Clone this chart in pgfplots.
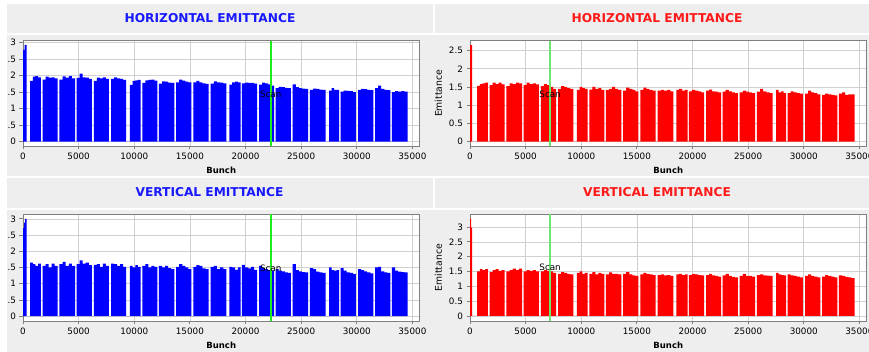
\documentclass[border=0pt]{standalone}
\usepackage{pgfplots}
\pgfplotsset{compat=1.18}
\usepackage{pgfplotstable}
\usepackage{fontspec}
\setmainfont{DejaVu Sans}

\definecolor{bgray}{RGB}{238,238,238}
\definecolor{tblue}{RGB}{25,25,255}
\definecolor{tred}{RGB}{255,25,25}
\definecolor{barblue}{RGB}{0,0,255}
\definecolor{barred}{RGB}{255,0,0}
\definecolor{gridgray}{RGB}{208,208,208}
\definecolor{framegray}{RGB}{128,128,128}
\definecolor{scanA}{RGB}{30,235,30}
\definecolor{scanB}{RGB}{110,230,110}

\pgfplotstableread{
x y
0 2.78
150 2.93
330 0
640 1.84
880 1.97
1120 1.99
1360 1.95
1600 0
1770 1.88
2040 1.97
2310 1.94
2580 1.95
2850 1.92
3120 0
3280 1.88
3560 1.98
3840 1.94
4120 1.99
4400 1.92
4680 0
4810 1.93
5090 2.06
5360 1.95
5640 1.94
5910 1.90
6190 0
6370 1.84
6640 1.94
6910 1.92
7190 1.95
7460 1.90
7730 0
7920 1.90
8190 1.95
8460 1.92
8740 1.90
9010 1.87
9280 0
9600 1.72
9845 1.84
10090 1.86
10335 1.87
10580 0
10720 1.78
10990 1.86
11260 1.87
11540 1.88
11810 1.85
12080 0
12220 1.76
12500 1.83
12770 1.82
13050 1.79
13320 1.78
13600 0
13770 1.80
14040 1.88
14320 1.85
14590 1.82
14870 1.80
15140 0
15310 1.80
15580 1.84
15860 1.80
16130 1.77
16410 1.75
16680 0
16870 1.76
17150 1.83
17430 1.80
17720 1.79
18000 1.77
18280 0
18550 1.73
18805 1.80
19060 1.82
19315 1.80
19570 0
19680 1.77
19950 1.79
20230 1.78
20500 1.78
20780 1.76
21050 0
21220 1.73
21490 1.79
21760 1.77
22040 1.74
22310 1.70
22580 0
22710 1.62
22980 1.66
23260 1.65
23530 1.63
23810 1.62
24080 0
24240 1.74
24520 1.65
24790 1.62
25070 1.61
25340 1.60
25620 0
25780 1.57
26070 1.61
26350 1.60
26640 1.58
26920 1.57
27210 0
27510 1.55
27735 1.62
27960 1.57
28185 1.57
28410 0
28550 1.52
28820 1.55
29090 1.54
29370 1.53
29640 1.50
29910 0
30120 1.57
30390 1.60
30670 1.59
30940 1.57
31220 1.56
31490 0
31660 1.62
31930 1.70
32200 1.60
32480 1.57
32750 1.56
33020 0
33150 1.50
33440 1.53
33720 1.52
34010 1.53
34290 1.52
34580 0
}\TL

\pgfplotstableread{
x y
0 2.72
100 2.88
200 3.0
330 0
640 1.65
880 1.60
1120 1.55
1360 1.62
1600 0
1770 1.55
2040 1.60
2310 1.50
2580 1.62
2850 1.55
3120 0
3280 1.60
3560 1.67
3840 1.55
4120 1.62
4400 1.55
4680 0
4810 1.60
5090 1.72
5360 1.62
5640 1.65
5910 1.57
6190 0
6370 1.58
6640 1.60
6910 1.52
7190 1.62
7460 1.55
7730 0
7920 1.62
8190 1.60
8460 1.55
8740 1.60
9010 1.52
9280 0
9600 1.55
9845 1.50
10090 1.57
10335 1.52
10580 0
10720 1.55
10990 1.60
11260 1.50
11540 1.55
11810 1.52
12080 0
12220 1.55
12500 1.50
12770 1.55
13050 1.48
13320 1.45
13600 0
13770 1.52
14040 1.60
14320 1.55
14590 1.50
14870 1.45
15140 0
15310 1.52
15580 1.57
15860 1.55
16130 1.47
16410 1.45
16680 0
16870 1.52
17150 1.55
17430 1.45
17720 1.50
18000 1.45
18280 0
18550 1.52
18805 1.50
19060 1.43
19315 1.50
19570 0
19680 1.58
19950 1.50
20230 1.47
20500 1.52
20780 1.43
21050 0
21220 1.55
21490 1.48
21760 1.45
22040 1.42
22310 1.40
22580 0
22710 1.45
22980 1.40
23260 1.38
23530 1.35
23810 1.33
24080 0
24240 1.60
24520 1.42
24790 1.38
25070 1.36
25340 1.35
25620 0
25780 1.48
26070 1.45
26350 1.37
26640 1.35
26920 1.33
27210 0
27510 1.50
27735 1.42
27960 1.40
28185 1.42
28410 0
28550 1.48
28820 1.40
29090 1.35
29370 1.33
29640 1.30
29910 0
30120 1.45
30390 1.42
30670 1.38
30940 1.35
31220 1.32
31490 0
31660 1.50
31930 1.52
32200 1.38
32480 1.35
32750 1.33
33020 0
33150 1.50
33440 1.40
33720 1.37
34010 1.36
34290 1.35
34580 0
}\BL

\pgfplotstableread{
x y
0 2.65
200 0
640 1.53
880 1.58
1120 1.60
1360 1.62
1600 0
1770 1.55
2040 1.62
2310 1.58
2580 1.62
2850 1.57
3120 0
3280 1.52
3560 1.60
3840 1.58
4120 1.62
4400 1.60
4680 0
4810 1.55
5090 1.62
5360 1.58
5640 1.60
5910 1.57
6190 0
6370 1.52
6640 1.58
6910 1.55
7190 1.50
7460 1.45
7730 0
7920 1.45
8190 1.52
8460 1.50
8740 1.47
9010 1.45
9280 0
9600 1.42
9845 1.50
10090 1.47
10335 1.45
10580 0
10720 1.43
10990 1.50
11260 1.45
11540 1.47
11810 1.42
12080 0
12220 1.42
12500 1.45
12770 1.50
13050 1.45
13320 1.42
13600 0
13770 1.40
14040 1.48
14320 1.45
14590 1.42
14870 1.38
15140 0
15310 1.42
15580 1.48
15860 1.45
16130 1.42
16410 1.40
16680 0
16870 1.40
17150 1.42
17430 1.40
17720 1.42
18000 1.38
18280 0
18550 1.42
18805 1.45
19060 1.40
19315 1.42
19570 0
19680 1.38
19950 1.42
20230 1.40
20500 1.38
20780 1.35
21050 0
21220 1.40
21490 1.43
21760 1.38
22040 1.37
22310 1.35
22580 0
22710 1.37
22980 1.42
23260 1.38
23530 1.35
23810 1.33
24080 0
24240 1.35
24520 1.40
24790 1.37
25070 1.35
25340 1.33
25620 0
25780 1.37
26070 1.45
26350 1.38
26640 1.35
26920 1.33
27210 0
27510 1.42
27735 1.35
27960 1.38
28185 1.33
28410 0
28550 1.33
28820 1.38
29090 1.35
29370 1.33
29640 1.32
29910 0
30120 1.32
30390 1.40
30670 1.35
30940 1.33
31220 1.30
31490 0
31660 1.28
31930 1.32
32200 1.30
32480 1.28
32750 1.27
33020 0
33150 1.32
33440 1.35
33720 1.28
34010 1.30
34290 1.30
34580 0
}\TR

\pgfplotstableread{
x y
0 3.28
110 2.98
200 0
640 1.50
880 1.58
1120 1.55
1360 1.58
1600 0
1770 1.48
2040 1.55
2310 1.58
2580 1.52
2850 1.55
3120 0
3280 1.50
3560 1.55
3840 1.60
4120 1.55
4400 1.60
4680 0
4810 1.50
5090 1.55
5360 1.52
5640 1.55
5910 1.50
6190 0
6370 1.50
6640 1.55
6910 1.52
7190 1.50
7460 1.45
7730 0
7920 1.42
8190 1.48
8460 1.45
8740 1.42
9010 1.40
9280 0
9600 1.45
9845 1.50
10090 1.42
10335 1.45
10580 0
10720 1.42
10990 1.48
11260 1.40
11540 1.45
11810 1.42
12080 0
12220 1.40
12500 1.47
12770 1.42
13050 1.42
13320 1.40
13600 0
13770 1.42
14040 1.48
14320 1.40
14590 1.37
14870 1.35
15140 0
15310 1.40
15580 1.45
15860 1.42
16130 1.40
16410 1.38
16680 0
16870 1.38
17150 1.40
17430 1.37
17720 1.38
18000 1.35
18280 0
18550 1.40
18805 1.42
19060 1.38
19315 1.40
19570 0
19680 1.38
19950 1.42
20230 1.40
20500 1.38
20780 1.37
21050 0
21220 1.38
21490 1.42
21760 1.37
22040 1.35
22310 1.33
22580 0
22710 1.37
22980 1.42
23260 1.35
23530 1.32
23810 1.30
24080 0
24240 1.35
24520 1.42
24790 1.35
25070 1.35
25340 1.33
25620 0
25780 1.38
26070 1.40
26350 1.37
26640 1.36
26920 1.35
27210 0
27510 1.45
27735 1.40
27960 1.38
28185 1.37
28410 0
28550 1.40
28820 1.37
29090 1.35
29370 1.33
29640 1.30
29910 0
30120 1.35
30390 1.40
30670 1.35
30940 1.33
31220 1.30
31490 0
31660 1.33
31930 1.38
32200 1.35
32480 1.33
32750 1.30
33020 0
33150 1.37
33440 1.35
33720 1.32
34010 1.30
34290 1.28
34580 0
}\BR

\pgfplotsset{
 emit/.style={
  scale only axis, width=396.5pt,
  xmin=0, xmax=35640,
  xtick={0,5000,10000,15000,20000,25000,30000,35000},
  axis background/.style={fill=white},
  grid=major, grid style={draw=gridgray, line width=0.6pt},
  axis line style={draw=framegray, line width=0.8pt},
  major tick style={draw=framegray, line width=0.8pt},
  tick align=outside, major tick length=3.5pt,
  xtick pos=left, ytick pos=left,
  scaled ticks=false,
  /pgf/number format/assume math mode=true,
  /pgf/number format/1000 sep={},
  tick label style={font=\fontsize{8.8}{10}\selectfont, text=black},
  xlabel={Bunch},
  xlabel style={font=\bfseries\fontsize{8.5}{10}\selectfont},
  ylabel style={font=\fontsize{9.3}{10}\selectfont},
 }
}

\begin{document}
\begin{tikzpicture}[x=1pt,y=1pt]
\useasboundingbox (0,0) rectangle (869,352);
\clip (0,0) rectangle (869,352);
\fill[white] (0,0) rectangle (869,352);
% title bars and panel backgrounds
\fill[bgray] (7,348) rectangle (432.5,318.5);
\fill[bgray] (435,348) rectangle (869,318.5);
\fill[bgray] (7,316.5) rectangle (869,175.5);
\fill[bgray] (7,174) rectangle (432.5,144);
\fill[bgray] (435,174) rectangle (869,144);
\fill[bgray] (7,142) rectangle (869,0);

\node[font=\bfseries\fontsize{12.2}{14}\selectfont, text=tblue] at (210,333.7) {HORIZONTAL EMITTANCE};
\node[font=\bfseries\fontsize{12.2}{14}\selectfont, text=tred] at (657,333.7) {HORIZONTAL EMITTANCE};
\node[font=\bfseries\fontsize{12.2}{14}\selectfont, text=tblue] at (209.5,160) {VERTICAL EMITTANCE};
\node[font=\bfseries\fontsize{12.2}{14}\selectfont, text=tred] at (657,160) {VERTICAL EMITTANCE};

\begin{scope}
\clip (8.3,0) rectangle (433,352);
% top left
\begin{axis}[emit, at={(23pt,206pt)}, anchor=south west, height=105.3pt,
  ymin=-0.13, ymax=3.06, ytick={0,0.5,1,1.5,2,2.5,3}]
\addplot[fill=barblue, draw=none, const plot] table[x=x,y=y] {\TL} \closedcycle;
\addplot[scanA, line width=1.6pt] coordinates {(22270,-0.13) (22270,3.06)};
\node[font=\fontsize{8.8}{10}\selectfont] at (axis cs:22270,1.43) {Scan};
\end{axis}
% bottom left
\begin{axis}[emit, at={(23pt,31pt)}, anchor=south west, height=106.7pt,
  ymin=-0.15, ymax=3.14, ytick={0,0.5,1,1.5,2,2.5,3}]
\addplot[fill=barblue, draw=none, const plot] table[x=x,y=y] {\BL} \closedcycle;
\addplot[scanA, line width=1.6pt] coordinates {(22270,-0.15) (22270,3.14)};
\node[font=\fontsize{8.8}{10}\selectfont] at (axis cs:22270,1.49) {Scan};
\end{axis}
\end{scope}

% top right
\begin{axis}[emit, at={(470pt,206pt)}, anchor=south west, height=105.3pt,
  ymin=-0.12, ymax=2.77, ytick={0,0.5,1,1.5,2,2.5}, ylabel={Emittance}]
\addplot[fill=barred, draw=none, const plot] table[x=x,y=y] {\TR} \closedcycle;
\addplot[scanB, line width=2.2pt] coordinates {(7200,-0.12) (7200,2.77)};
\node[font=\fontsize{8.8}{10}\selectfont] at (axis cs:7200,1.30) {Scan};
\end{axis}
% bottom right
\begin{axis}[emit, at={(470pt,31pt)}, anchor=south west, height=106.7pt,
  ymin=-0.17, ymax=3.43, ytick={0,0.5,1,1.5,2,2.5,3}, ylabel={Emittance}]
\addplot[fill=barred, draw=none, const plot] table[x=x,y=y] {\BR} \closedcycle;
\addplot[scanB, line width=2.2pt] coordinates {(7200,-0.17) (7200,3.43)};
\node[font=\fontsize{8.8}{10}\selectfont] at (axis cs:7200,1.63) {Scan};
\end{axis}
\end{tikzpicture}
\end{document}
